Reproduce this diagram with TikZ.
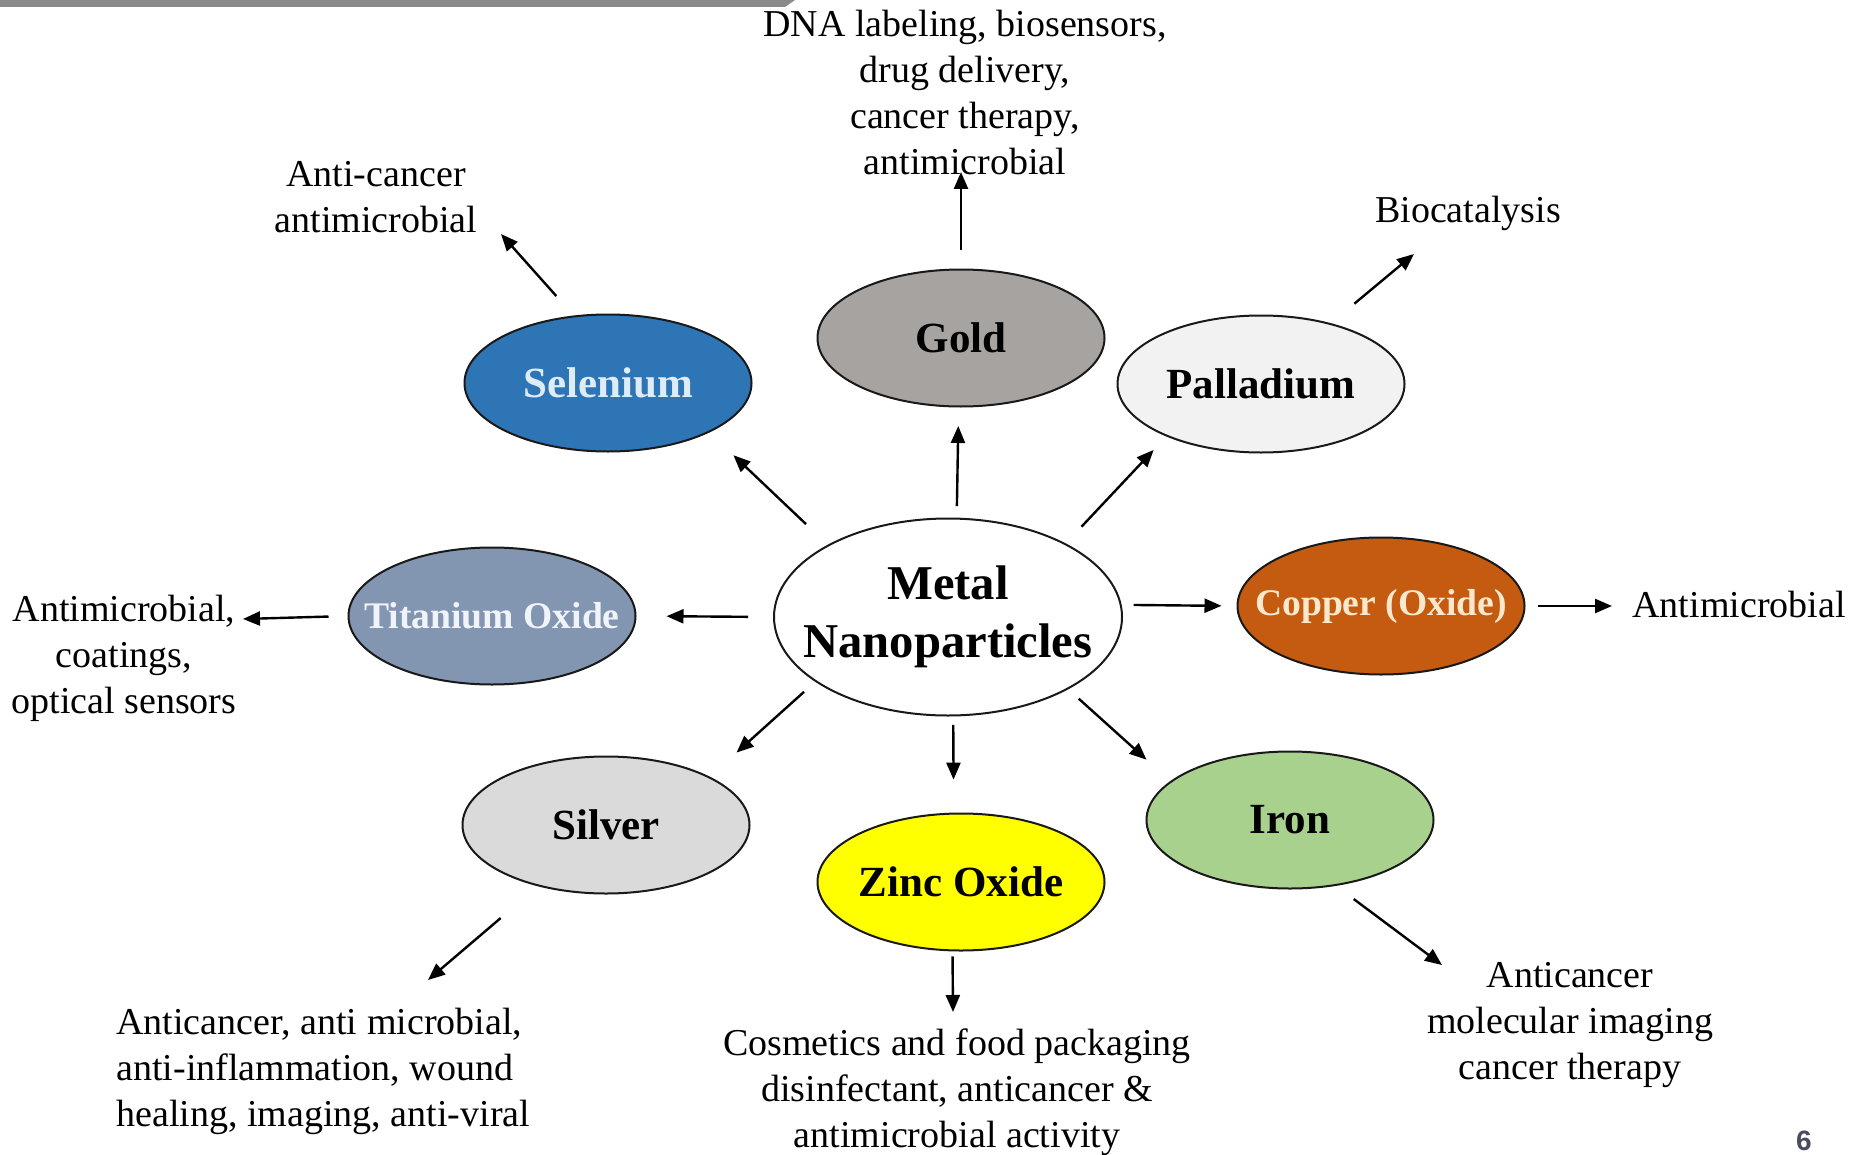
\documentclass[tikz,border=0pt]{standalone}
\usepackage{fontspec}
\setmainfont{Liberation Serif}
\newfontfamily\pagenumfont{Liberation Sans}
\usetikzlibrary{shapes.geometric,arrows.meta}

\definecolor{goldfill}{RGB}{166,163,161}
\definecolor{selfill}{RGB}{46,117,182}
\definecolor{seltext}{RGB}{222,236,248}
\definecolor{pdfill}{RGB}{242,242,242}
\definecolor{tifill}{RGB}{130,150,178}
\definecolor{titext}{RGB}{240,244,248}
\definecolor{cufill}{RGB}{197,90,17}
\definecolor{cutext}{RGB}{252,232,204}
\definecolor{agfill}{RGB}{218,218,218}
\definecolor{znfill}{RGB}{255,255,0}
\definecolor{fefill}{RGB}{169,209,142}
\definecolor{barfill}{RGB}{138,138,138}
\definecolor{pagenum}{RGB}{74,74,98}

\tikzset{
  metal/.style={ellipse, draw=black!90, line width=1pt, inner sep=-15pt,
    minimum width=143.5pt, minimum height=68.5pt, align=center,
    font=\fontsize{21.5}{25}\selectfont\bfseries},
  hub/.style={metal, minimum width=174pt, minimum height=98.5pt,
    font=\fontsize{24.3}{29}\selectfont\bfseries},
  lbl/.style={align=center, inner sep=0pt, font=\fontsize{19}{23}\selectfont},
  arr/.style={-{Triangle[length=8.5pt,width=7pt]}, line width=1.2pt},
}

\begin{document}
\begin{tikzpicture}[x=0.5pt,y=-0.5pt]
\useasboundingbox (0,0) rectangle (1856,1155);

% slide header bar
\fill[barfill] (0,0) -- (795,0) -- (785,7) -- (0,7) -- cycle;

% central node
\node[hub, fill=white] (mn) at (948,617) {Metal\\Nanoparticles};

% particle types
\node[metal, fill=goldfill] (gold) at (961,338) {Gold};
\node[metal, fill=selfill, text=seltext] (sel) at (608,383) {Selenium};
\node[metal, fill=pdfill] (pd) at (1261,384) {Palladium};
\node[metal, fill=tifill, text=titext, font=\fontsize{18.8}{22}\selectfont\bfseries] (ti) at (492,616) {Titanium Oxide};
\node[metal, fill=cufill, text=cutext, font=\fontsize{18.8}{22}\selectfont\bfseries] (cu) at (1381,606) {Copper (Oxide)};
\node[metal, fill=agfill] (ag) at (606,825) {Silver};
\node[metal, fill=znfill] (zn) at (961,882) {Zinc Oxide};
\node[metal, fill=fefill] (fe) at (1290,820) {Iron};

% applications
\node[lbl] (dna) at (965,93) {DNA labeling, biosensors,\\drug delivery,\\cancer therapy,\\antimicrobial};
\node[lbl] (ac) at (376,197) {Anti-cancer\\antimicrobial};
\node[lbl] (bio) at (1468,213) {Biocatalysis};
\node[lbl] (tit) at (124,658) {Antimicrobial,\\coatings,\\optical sensors};
\node[lbl] (cut) at (1739,604) {Antimicrobial};
\node[lbl, align=left, anchor=west] (agt) at (116,1071) {Anticancer, anti microbial,\\anti-inflammation, wound\\healing, imaging, anti-viral};
\node[lbl] (znt) at (957,1092) {Cosmetics and food packaging\\disinfectant, anticancer \&\\antimicrobial activity};
\node[lbl] (fet) at (1570,1025) {Anticancer\\molecular imaging\\cancer therapy};

% arrow tips next to the application texts
\coordinate (tipGold) at (961,172);
\coordinate (tipSel) at (501,234);
\coordinate (tipPd) at (1414,254);
\coordinate (tipTi) at (243,619);
\coordinate (tipCu) at (1612,606);
\coordinate (tipAg) at (428,980);
\coordinate (tipZn) at (953,1012);
\coordinate (tipFe) at (1442,965);

% hub to particle types
\draw[arr, shorten <=15pt, shorten >=16.5pt] (mn.149) -- (sel.-26);
\draw[arr, shorten <=5.75pt, shorten >=9.25pt] (mn.85) -- (gold.-92);
\draw[arr, shorten <=11.5pt, shorten >=9.25pt] (mn.32) -- (pd.-151);
\draw[arr, shorten <=12.5pt, shorten >=15pt] (mn.180) -- (ti.0);
\draw[arr, shorten <=6pt, shorten >=7.5pt] (mn.4) -- (cu.180);
\draw[arr, shorten <=7.5pt, shorten >=18pt] (mn.206) -- (ag.25);
\draw[arr, shorten <=4.25pt, shorten >=16.5pt] (mn.-87) -- (zn.96);
\draw[arr, shorten <=7pt, shorten >=16pt] (mn.-31) -- (fe.162);

% particle types to applications
\draw[arr, shorten <=9.25pt] (gold.north) -- (tipGold);
\draw[arr, shorten <=13pt] (sel.117) -- (tipSel);
\draw[arr, shorten <=15.25pt] (pd.41) -- (tipPd);
\draw[arr, shorten <=9.5pt] (ti.180) -- (tipTi);
\draw[arr, shorten <=6pt] (cu.0) -- (tipCu);
\draw[arr, shorten <=24.5pt] (ag.222) -- (tipAg);
\draw[arr, shorten <=2.5pt] (zn.-97) -- (tipZn);
\draw[arr, shorten <=11pt] (fe.-55) -- (tipFe);

% page number
\node[text=pagenum, font=\pagenumfont\bfseries\fontsize{14}{16}\selectfont] (pg) at (1804,1141) {6};
\end{tikzpicture}
\end{document}
